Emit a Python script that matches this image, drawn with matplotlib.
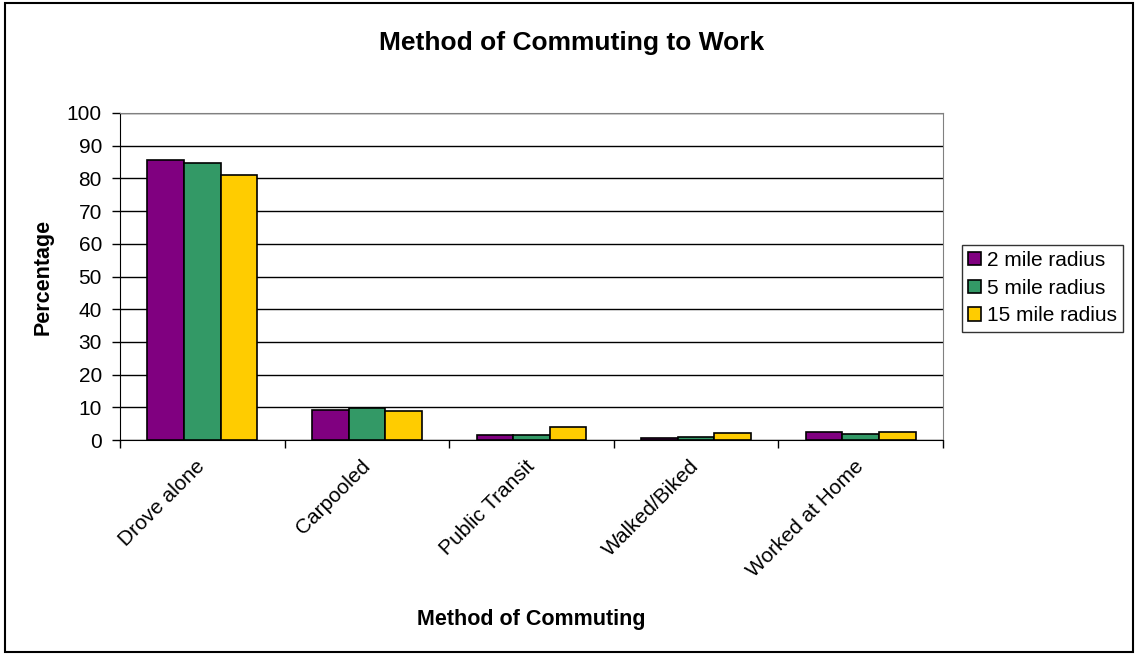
import numpy as np
import matplotlib; matplotlib.use("Agg")
import matplotlib.pyplot as plt
from matplotlib.patches import Rectangle

plt.rcParams["font.family"] = ["Liberation Sans", "DejaVu Sans"]

METHODS = ["Drove alone", "Carpooled", "Public Transit", "Walked/Biked", "Worked at Home"]
SERIES  = ["2 mile radius", "5 mile radius", "15 mile radius"]
RADIUS_2  = [85.7, 9.1, 1.4, 0.5, 2.4]
RADIUS_5  = [84.7, 9.7, 1.4, 1.0, 1.9]
RADIUS_15 = [81.1, 9.0, 3.9, 2.0, 2.4]
COLORS  = ["#800080", "#339966", "#FFCC00"]
Y_TICKS = list(range(0, 101, 10))

W, H = 1139, 659
fig = plt.figure(figsize=(W / 100, H / 100), dpi=100)
ax = fig.add_axes([120 / W, 1 - 440 / H, 823 / W, 327 / H])

x = np.arange(len(METHODS))
width = 1 / 4.5
for i, (vals, name, col) in enumerate(zip([RADIUS_2, RADIUS_5, RADIUS_15], SERIES, COLORS)):
    ax.bar(x + (i - 1) * width, vals, width, color=col, edgecolor="black",
           linewidth=1.2, label=name, zorder=3)

ax.set_xlim(-0.5, len(METHODS) - 0.5)
ax.set_ylim(0, 100)
ax.set_yticks(Y_TICKS)
ax.tick_params(axis="y", labelsize=15, length=6, width=1, direction="out", pad=7)
ax.yaxis.grid(True, color="black", linewidth=1, zorder=0)
ax.set_axisbelow(True)

# category ticks sit on the group boundaries, labels at the group centres
ax.set_xticks(np.arange(len(METHODS) + 1) - 0.5)
ax.set_xticklabels([])
ax.set_xticks(x, minor=True)
ax.set_xticklabels(METHODS, minor=True, rotation=45, ha="right", va="center",
                   rotation_mode="anchor", fontsize=15)
ax.tick_params(axis="x", which="major", length=6, width=1)
ax.tick_params(axis="x", which="minor", length=0, pad=17)

for side in ("top", "right"):
    ax.spines[side].set_color("#808080")
for side in ("left", "bottom"):
    ax.spines[side].set_color("black")

ax.set_ylabel("Percentage", fontsize=15.5, fontweight="bold", va="center")
ax.yaxis.set_label_coords((43 - 120) / 823, 0.5)
ax.set_xlabel("Method of Commuting", fontsize=15.5, fontweight="bold", va="center")
ax.xaxis.set_label_coords((531 - 120) / 823, (440 - 620) / 327)
fig.text(572 / W, 1 - 43 / H, "Method of Commuting to Work", ha="center",
         va="center", fontsize=19, fontweight="bold")

leg = ax.legend(loc="center left", bbox_to_anchor=(962 / W, 1 - 288 / H),
                bbox_transform=fig.transFigure, fontsize=15, frameon=True,
                fancybox=False, edgecolor="black", handlelength=0.6,
                handleheight=0.6, handletextpad=0.3, labelspacing=0.42,
                borderpad=0.3, borderaxespad=0)
leg.get_frame().set_linewidth(1)

fig.patches.append(Rectangle((5 / W, 1 - 652 / H), 1128 / W, 649 / H,
                             transform=fig.transFigure, fill=False,
                             edgecolor="black", linewidth=1.5))

fig.savefig("out.png", dpi=100)
